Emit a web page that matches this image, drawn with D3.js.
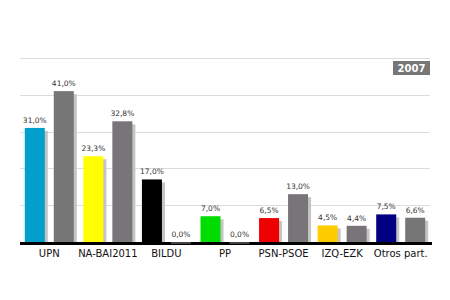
<!DOCTYPE html>
<html>
<head>
<meta charset="utf-8">
<script src="https://cdn.jsdelivr.net/npm/d3@7"></script>
<style>
  body { margin: 0; background: #fff; }
  text { font-family: "DejaVu Sans", Verdana, sans-serif; }
</style>
</head>
<body>
<div class="canvas"></div>
<script>
// data
const parties = ['UPN', 'NA-BAI2011', 'BILDU', 'PP', 'PSN-PSOE', 'IZQ-EZK', 'Otros part.'];
const votes2011 = [31.0, 23.3, 17.0, 7.0, 6.5, 4.5, 7.5];
const votes2007 = [41.0, 32.8, 0.0, 0.0, 13.0, 4.4, 6.6];
const partyColors = ['#009fcc', '#ffff00', '#000000', '#00dd00', '#ee0000', '#ffcc00', '#000080'];
const gridTicks = [10, 20, 30, 40, 50];
const yearLabel = '2007';

const svg = d3.select('.canvas')
    .append('svg')
    .attr('width', 450)
    .attr('height', 300);

const margin = { top: 58, left: 20, right: 20 };
const baseY = 242;

const x0 = d3.scaleBand()
    .domain(parties)
    .range([margin.left, 430]);

// two bars in each group
const x1 = d3.scaleBand()
    .domain(['now', 'before'])
    .range([0, x0.bandwidth()])
    .paddingInner(0.31)
    .paddingOuter(0.165);

const y = d3.scaleLinear()
    .domain([0, 50])
    .range([baseY, margin.top]);

// grid lines
svg.append('g')
    .selectAll('line')
    .data(gridTicks)
    .enter().append('line')
    .attr('x1', margin.left)
    .attr('x2', 430)
    .attr('y1', d => Math.round(y(d)) + 0.5)
    .attr('y2', d => Math.round(y(d)) + 0.5)
    .attr('stroke', '#dcdcdc')
    .attr('stroke-width', 1);

// bar rows
const rows = parties.map((p, i) => [
    { party: p, key: 'now', value: votes2011[i], color: partyColors[i] },
    { party: p, key: 'before', value: votes2007[i], color: '#777577' }
]).flat();

const bars = svg.append('g');

// shadows
bars.selectAll('rect.shadow')
    .data(rows.filter(d => d.value > 0))
    .enter().append('rect')
    .attr('class', 'shadow')
    .attr('x', d => x0(d.party) + x1(d.key) + 3)
    .attr('y', d => y(d.value) + 3)
    .attr('width', x1.bandwidth())
    .attr('height', d => baseY - y(d.value) - 3)
    .attr('fill', '#c4c4c4');

bars.selectAll('rect.bar')
    .data(rows)
    .enter().append('rect')
    .attr('class', 'bar')
    .attr('x', d => x0(d.party) + x1(d.key))
    .attr('y', d => y(d.value))
    .attr('width', x1.bandwidth())
    .attr('height', d => baseY - y(d.value))
    .attr('fill', d => d.color);

// baseline
svg.append('rect')
    .attr('x', margin.left)
    .attr('y', baseY)
    .attr('width', 412)
    .attr('height', 3)
    .attr('fill', '#000');

// zero bars show as dark strips on the baseline
svg.append('g')
    .selectAll('rect')
    .data(rows.filter(d => d.value === 0))
    .enter().append('rect')
    .attr('x', d => x0(d.party) + x1(d.key))
    .attr('y', baseY)
    .attr('width', x1.bandwidth())
    .attr('height', 2)
    .attr('fill', '#444');

// value labels
svg.append('g')
    .selectAll('text')
    .data(rows)
    .enter().append('text')
    .attr('x', d => x0(d.party) + x1(d.key) + x1.bandwidth() / 2)
    .attr('y', d => y(d.value) - 5)
    .attr('text-anchor', 'middle')
    .attr('font-size', '7.5px')
    .attr('fill', '#333')
    .text(d => d.value.toFixed(1).replace('.', ',') + '%');

// category labels
svg.append('g')
    .selectAll('text')
    .data(parties)
    .enter().append('text')
    .attr('x', d => x0(d) + x0.bandwidth() / 2)
    .attr('y', 257)
    .attr('text-anchor', 'middle')
    .attr('font-size', '10px')
    .attr('fill', '#111')
    .text(d => d);

// year box
svg.append('rect')
    .attr('x', 393)
    .attr('y', 61)
    .attr('width', 37)
    .attr('height', 14)
    .attr('fill', '#777577');

svg.append('text')
    .attr('x', 411.5)
    .attr('y', 72)
    .attr('text-anchor', 'middle')
    .attr('font-size', '10px')
    .attr('font-weight', 'bold')
    .attr('fill', '#fff')
    .text(yearLabel);
</script>
</body>
</html>
